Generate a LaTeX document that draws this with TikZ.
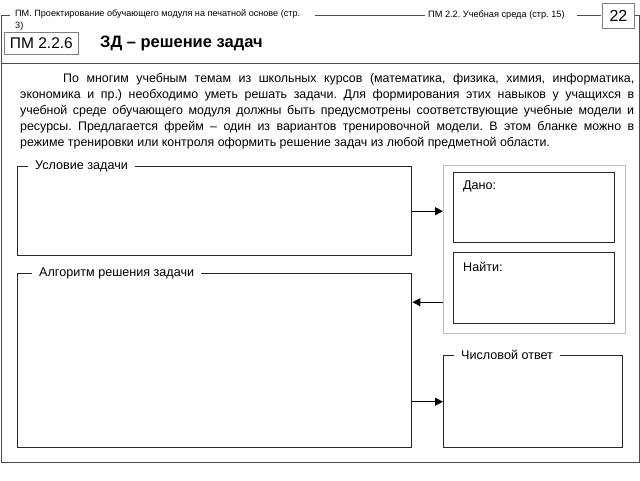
\documentclass[tikz,border=0pt]{standalone}
\usepackage{fontspec}
\setmainfont{Liberation Sans}
\usetikzlibrary{arrows.meta, positioning}
\frenchspacing

\tikzset{
    pageline/.style={draw=black!70, line width=0.9pt},
    field/.style={draw=black!85, line width=1.4pt, minimum width=#1, inner sep=0pt, anchor=north west},
    caption/.style={fill=white, inner xsep=7pt, inner ysep=1pt, font=\fontsize{12.6}{14}\selectfont},
    flow/.style={-{Triangle[length=8pt,width=8pt]}, line width=1.3pt},
}

\begin{document}
\begin{tikzpicture}[x=1pt, y=-1pt]
    \useasboundingbox (0,0) rectangle (640,480);
    % Page frame with header
    \draw[pageline] (10,15) -- (1,15) -- (1,462) -- (639,462) -- (639,15) -- (634,15);
    \draw[pageline] (315,15) -- (425,15);
    \draw[pageline] (577,15) -- (601,15);
    \draw[pageline] (1,63) -- (639,63);
    \node[anchor=north west, align=left, inner sep=0pt, font=\fontsize{9.1}{12}\selectfont] (hdrleft) at (15,10)
        {ПМ. Проектирование обучающего модуля на печатной основе (стр.\\3)};
    \node[anchor=west, inner sep=0pt, font=\fontsize{9.2}{10}\selectfont] (hdrright) at (428,15)
        {ПМ 2.2. Учебная среда (стр. 15)};
    \node[draw=black!50, line width=0.8pt, anchor=north west, minimum width=32pt, minimum height=25pt, inner sep=0pt,
        font=\fontsize{16}{18}\selectfont] (pagenum) at (602,3) {22};
    % Title
    \node[draw=black!50, line width=0.8pt, anchor=north west, minimum width=74pt, minimum height=22pt, inner sep=0pt,
        font=\fontsize{15.5}{17}\selectfont] (code) at (4,32) {ПМ 2.2.6};
    \node[anchor=west, inner sep=0pt, font=\fontsize{16.5}{18}\selectfont\bfseries] (title) at (100,43) {ЗД – решение задач};
    % Introduction
    \node[anchor=north west, inner sep=0pt, text width=614pt, align=justify,
        font=\fontsize{12.4}{16}\selectfont] (intro) at (20,73)
        {\hspace*{43pt}По многим учебным темам из школьных курсов (математика, физика, химия, информатика,\linebreak
        экономика и пр.) необходимо уметь решать задачи. Для формирования этих навыков у учащихся в\linebreak
        учебной среде обучающего модуля должны быть предусмотрены соответствующие учебные модели и\linebreak
        ресурсы. Предлагается фрейм – один из вариантов тренировочной модели. В этом бланке можно в\linebreak
        режиме тренировки или контроля оформить решение задач из любой предметной области.};
    % Left fields
    \node[field=394pt, minimum height=89pt] (cond) at (17,166) {};
    \node[field=394pt, minimum height=174pt] (algo) at (17,273) {};
    \node[caption, right=11pt of cond.north west, anchor=west] {Условие задачи};
    \node[caption, right=15pt of algo.north west, anchor=west] {Алгоритм решения задачи};
    % Right fields
    \node[draw=black!25, line width=1.2pt, minimum width=182pt, minimum height=168pt, inner sep=0pt, anchor=north west] (data) at (443,165) {};
    \node[field=161pt, minimum height=70pt] (given) at (453,172) {};
    \node[field=161pt, minimum height=71pt] (wanted) at (453,252) {};
    \node[anchor=north west, inner sep=0pt, font=\fontsize{12.6}{14}\selectfont] at ([xshift=10pt,yshift=-9pt]given.north west) {Дано:};
    \node[anchor=north west, inner sep=0pt, font=\fontsize{12.6}{14}\selectfont] at ([xshift=10pt,yshift=-10pt]wanted.north west) {Найти:};
    \node[field=179pt, minimum height=92pt] (answer) at (443,355) {};
    \node[caption, right=11pt of answer.north west, anchor=west] {Числовой ответ};
    % Connectors
    \coordinate (back) at ([yshift=32pt]data.south west);
    \draw[flow] (cond.east) -- (cond.east -| data.west);
    \draw[flow] (back) -- (back -| algo.east);
    \draw[flow] (answer.west -| algo.east) -- (answer.west);
\end{tikzpicture}
\end{document}
